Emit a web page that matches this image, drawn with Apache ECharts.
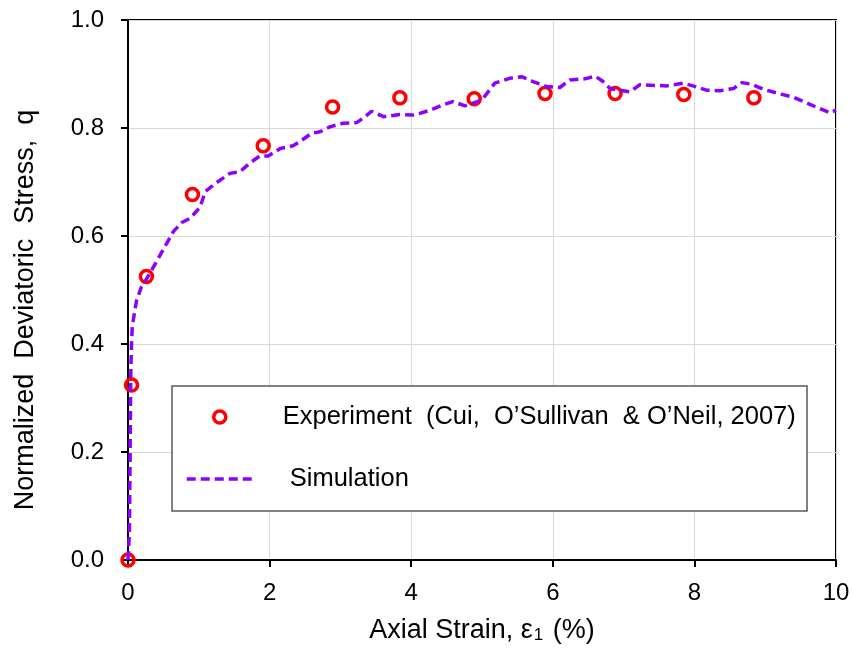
<!DOCTYPE html>
<html>
<head>
<meta charset="utf-8">
<script src="https://cdn.jsdelivr.net/npm/echarts@6/dist/echarts.min.js"></script>
<style>
html,body{margin:0;padding:0;background:#fff;}
#chart{width:853px;height:650px;}
</style>
</head>
<body>
<div id="chart"></div>
<script>
// Experiment data (axial strain %, normalized q)
var expStrain = [0, 0.05, 0.26, 0.91, 1.91, 2.89, 3.84, 4.89, 5.89, 6.88, 7.85, 8.84];
var expQ      = [0, 0.324, 0.525, 0.677, 0.767, 0.839, 0.856, 0.854, 0.864, 0.864, 0.862, 0.856];

// Simulation data
var simStrain = [0, 0.02, 0.03, 0.04, 0.05, 0.06, 0.09, 0.12, 0.19, 0.26, 0.40, 0.52, 0.64, 0.76, 0.88,
  1.02, 1.09, 1.23, 1.44, 1.58, 1.72, 1.86, 1.98, 2.15, 2.33, 2.43, 2.59, 2.71, 2.85, 3.04, 3.23,
  3.35, 3.44, 3.61, 3.84, 4.03, 4.12, 4.27, 4.45, 4.59, 4.76, 5.00, 5.18, 5.39, 5.56, 5.72, 5.91,
  6.10, 6.24, 6.45, 6.60, 6.71, 6.81, 7.09, 7.23, 7.61, 7.84, 7.98, 8.17, 8.36, 8.55, 8.67, 8.81,
  8.97, 9.21, 9.40, 9.59, 9.77, 9.92, 10.0];
var simQ = [0, 0.05, 0.20, 0.35, 0.40, 0.432, 0.457, 0.48, 0.506, 0.52, 0.552, 0.58, 0.608, 0.625, 0.633,
  0.654, 0.682, 0.697, 0.716, 0.719, 0.735, 0.748, 0.748, 0.762, 0.767, 0.775, 0.790, 0.793, 0.802, 0.809, 0.810,
  0.821, 0.831, 0.821, 0.825, 0.824, 0.827, 0.833, 0.843, 0.849, 0.841, 0.852, 0.883, 0.892, 0.895, 0.886, 0.877,
  0.875, 0.889, 0.891, 0.896, 0.886, 0.873, 0.867, 0.880, 0.878, 0.883, 0.878, 0.870, 0.869, 0.873, 0.884, 0.881,
  0.872, 0.863, 0.857, 0.846, 0.836, 0.828, 0.833];

var expName = 'Experiment  (Cui,  O\u2019Sullivan  & O\u2019Neil, 2007)';
var simName = 'Simulation';

function pairs(xs, ys){ return xs.map(function(x,i){ return [x, ys[i]]; }); }

var FONT = 'Liberation Sans';
var RED = '#ff0000', PURPLE = '#8c00ff';
var chart = echarts.init(document.getElementById('chart'), null, {renderer:'canvas'});
chart.setOption({
  animation: false,
  backgroundColor: '#fff',
  textStyle: {fontFamily: FONT, color: '#000'},
  grid: {left:128, right:17, top:20, bottom:90, show:true, borderColor:'#000', borderWidth:2, backgroundColor:'transparent'},
  xAxis: {
    type:'value', min:0, max:10, interval:2,
    name: '{a|Axial Strain, \u03b5}{s|1}{a| (%)}',
    nameLocation:'middle', nameGap:57,
    nameTextStyle:{ rich:{ a:{fontFamily:FONT, fontSize:27, color:'#000'}, s:{fontFamily:FONT, fontSize:17, color:'#000', verticalAlign:'bottom', padding:[10,2,0,1]} } },
    axisLine:{show:true, lineStyle:{color:'#000', width:2}},
    axisTick:{show:true, inside:false, length:7, lineStyle:{color:'#000', width:2}},
    axisLabel:{fontFamily:FONT, fontSize:24, color:'#000', margin:21},
    splitLine:{show:true, lineStyle:{color:'#d9d9d9', width:1}}
  },
  yAxis: {
    type:'value', min:0, max:1, interval:0.2,
    name: 'Normalized  Deviatoric  Stress,  q',
    nameLocation:'middle', nameGap:89,
    nameTextStyle:{fontFamily:FONT, fontSize:27, color:'#000', padding:[0,40,0,0]},
    axisLine:{show:true, lineStyle:{color:'#000', width:2}},
    axisTick:{show:true, inside:false, length:7, lineStyle:{color:'#000', width:2}},
    axisLabel:{fontFamily:FONT, fontSize:24, color:'#000', margin:24, formatter:function(v){return v.toFixed(1);}},
    splitLine:{show:true, lineStyle:{color:'#d9d9d9', width:1}}
  },
  graphic: [{
    type:'rect', z:3, shape:{x:172, y:386, width:635, height:125},
    style:{fill:'#fff', stroke:'#595959', lineWidth:1.5}
  }],
  legend: [{
    data:[{name:expName, icon:'circle', itemStyle:{color:'#fff', borderColor:RED, borderWidth:3.5}}],
    left:212, top:404, padding:0, itemWidth:12, itemHeight:12, z:5,
    formatter:function(n){ return '{g| }{t|' + n + '}'; },
    textStyle:{rich:{ g:{width:52}, t:{fontFamily:FONT, fontSize:25.5, color:'#000'} }}
  },{
    data:[{name:simName, itemStyle:{color:'rgba(0,0,0,0)', borderWidth:0, opacity:0}}],
    left:185, top:466, padding:0, itemWidth:67, itemHeight:14, z:5,
    lineStyle:{color:PURPLE, width:3.5, type:[9,5]},
    formatter:function(n){ return '{g| }{t|' + n + '}'; },
    textStyle:{rich:{ g:{width:31}, t:{fontFamily:FONT, fontSize:25.5, color:'#000'} }}
  }],
  series: [{
    name: simName, type:'line', data: pairs(simStrain, simQ),
    showSymbol:false, symbol:'none', smooth:false,
    lineStyle:{color:PURPLE, width:3.5, type:[9,5]},
    itemStyle:{color:PURPLE}
  },{
    name: expName, type:'scatter', data: pairs(expStrain, expQ),
    symbol:'circle', symbolSize:12,
    itemStyle:{color:'rgba(255,255,255,0)', borderColor:RED, borderWidth:3.5, opacity:1}
  }]
});
</script>
</body>
</html>
